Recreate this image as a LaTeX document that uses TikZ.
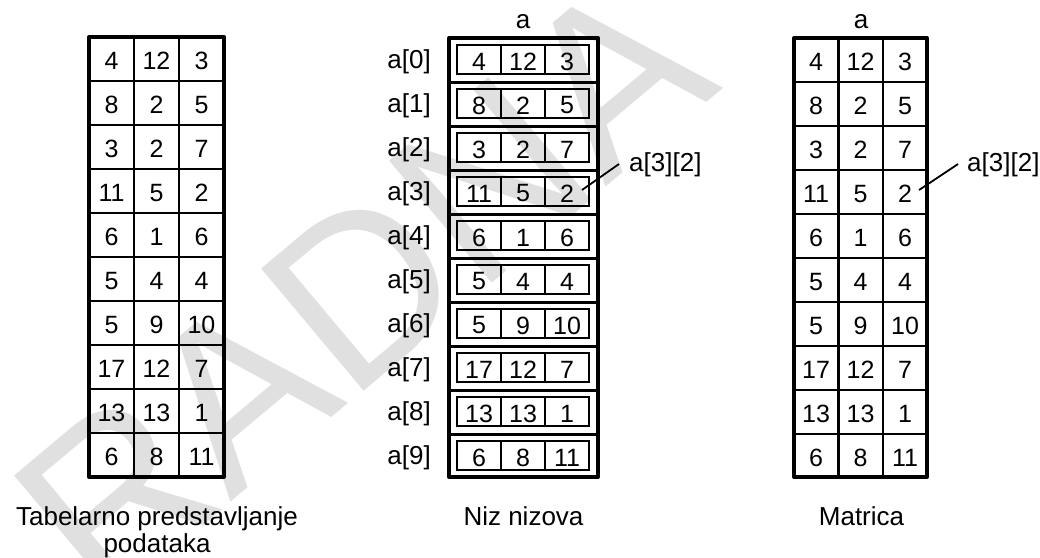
\documentclass[tikz,border=0pt]{standalone}
\usepackage{fontspec}
\setmainfont{Liberation Sans}
\begin{document}
\begin{tikzpicture}[x=1pt,y=-1pt,
  cellnum/.style={font=\fontsize{25}{28}\selectfont, inner sep=0pt},
  lbl/.style={font=\fontsize{26}{30}\selectfont, inner sep=0pt},
  frame/.style={line width=4pt, line join=round},
  gridline/.style={line width=2.5pt},
  rowsep/.style={line width=3pt},
  inbox/.style={line width=1.5pt},
  leader/.style={line width=1.8pt},
  watermark/.style={text=black!12, font=\fontsize{232}{232}\selectfont, inner sep=0pt}]
\useasboundingbox (0,0) rectangle (1040,557);
% watermark
\node[watermark, rotate=40] (wm) at (362,288) {RADNA};
\def\data{{4,12,3},{8,2,5},{3,2,7},{11,5,2},{6,1,6},{5,4,4},{5,9,10},{17,12,7},{13,13,1},{6,8,11}}
% ---------- left table ----------
\foreach \k in {1,...,9} \draw[gridline] (89,37+44*\k) -- (224,37+44*\k);
\draw[gridline] (134,37) -- (134,477);
\draw[gridline] (179,37) -- (179,477);
\draw[frame] (89,37) rectangle (224,477);
\foreach \row [count=\r from 0] in \data {
  \foreach \v [count=\c from 0] in \row {
    \node[cellnum] (L-\r-\c) at (111.5+45*\c, 61+44*\r) {\v};
  }
}
% ---------- middle: array of arrays ----------
\foreach \k in {1,...,9} \draw[rowsep] (449,38+44*\k) -- (598,38+44*\k);
\draw[frame] (449,38) rectangle (598,477);
\foreach \row [count=\r from 0] in \data {
  \draw[inbox] (457,45+44*\r) rectangle (589,74+44*\r);
  \draw[inbox] (501,45+44*\r) -- (501,74+44*\r);
  \draw[inbox] (545,45+44*\r) -- (545,74+44*\r);
  \node[lbl, anchor=east] (A-\r) at (431,62+44*\r) {a[\r]};
  \foreach \v [count=\c from 0] in \row {
    \node[cellnum] (M-\r-\c) at (479+44*\c, 61.5+44*\r) {\v};
  }
}
\node[lbl, anchor=base] (ma) at (523,28) {a};
% ---------- right: matrix ----------
\foreach \k in {1,...,9} \draw[gridline] (794,38+44*\k) -- (927,38+44*\k);
\draw[gridline] (838.5,38) -- (838.5,477);
\draw[gridline] (883,38) -- (883,477);
\draw[frame] (794,38) rectangle (927,477);
\foreach \row [count=\r from 0] in \data {
  \foreach \v [count=\c from 0] in \row {
    \node[cellnum] (R-\r-\c) at (816+44.5*\c, 62+44*\r) {\v};
  }
}
\node[lbl, anchor=base] (ra) at (861,28) {a};
% ---------- element labels ----------
\node[lbl, anchor=west] (lab1) at (629,164.5) {a[3][2]};
\node[lbl, anchor=west] (lab2) at (967,165) {a[3][2]};
\coordinate (p1) at (582,190);
\coordinate (p2) at (919,190);
\draw[leader] (p1) -- ([xshift=-10pt,yshift=0.5pt]lab1.west);
\draw[leader] (p2) -- ([xshift=-9pt,yshift=1pt]lab2.west);
% ---------- captions ----------
\node[lbl, anchor=north, align=center, font=\fontsize{26}{27}\selectfont] (cap1) at (157,506) {Tabelarno predstavljanje\\podataka};
\node[lbl, anchor=base] (cap2) at (523.5,525) {Niz nizova};
\node[lbl, anchor=base] (cap3) at (861.5,525) {Matrica};
\end{tikzpicture}
\end{document}
